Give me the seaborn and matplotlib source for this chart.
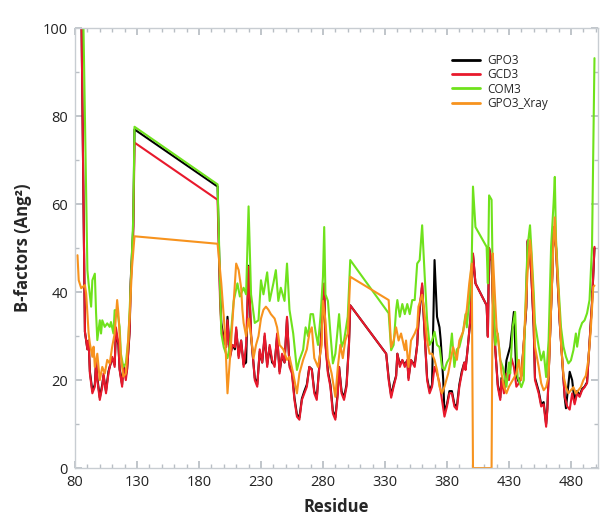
import matplotlib
matplotlib.use("Agg")
import matplotlib.pyplot as plt
import seaborn as sns
import pandas as pd
from matplotlib.ticker import MultipleLocator

# B-factors, (residue, value) per series
gpo3 = [(85, 108), (88, 31), (90, 27), (91, 29), (92, 22), (94, 17.5), (96, 19), (97, 24),
        (98, 20.5), (100, 16), (102, 19), (103, 21), (105, 17.5), (107, 22), (108, 23), (110, 25),
        (112, 23.5), (113, 31), (115, 28), (116, 22.5), (118, 19), (119, 23.4), (121, 21), (122, 22.5),
        (124, 31), (125, 43), (127, 55), (128, 77), (195, 64), (197, 40), (198, 33), (200, 29.5),
        (202, 28), (203, 34.4), (205, 25.5), (207, 28), (209, 27), (210, 31.5), (212, 25.5), (214, 29),
        (216, 23.5), (218, 24), (220, 46), (222, 30), (225, 20.5), (227, 19), (229, 26.5), (231, 24),
        (233, 30), (235, 23.5), (237, 27.5), (239, 24), (241, 23.5), (243, 30), (245, 22), (247, 25.5),
        (249, 24), (251, 34), (253, 23.5), (255, 22), (257, 16), (259, 12.2), (261, 11.5), (263, 15.8),
        (265, 17.5), (267, 19), (269, 23), (271, 22.5), (273, 17.5), (275, 16), (277, 23), (280, 36.5),
        (281, 41), (282, 28.5), (284, 22), (286, 19), (288, 13), (290, 11.5), (292, 17.5), (293, 23),
        (295, 17.5), (297, 16), (299, 19), (301, 28.5), (302, 37), (331, 26), (333, 20.5), (335, 16.5),
        (337, 19), (339, 21), (340, 26), (342, 23.5), (344, 24.5), (346, 23.5), (348, 24.5), (349, 20.5),
        (351, 24.5), (354, 23.5), (356, 28), (357, 33), (360, 41.5), (362, 30.5), (364, 20.5), (366, 17.5),
        (368, 19), (370, 47.3), (372, 34.4), (374, 32), (375, 29), (377, 20), (378, 12.5), (380, 14.5),
        (382, 17.5), (384, 17.5), (386, 14.5), (388, 14), (390, 19), (392, 22), (394, 24), (395, 22.5),
        (397, 28), (399, 34), (401, 48.5), (403, 42), (412, 37), (413, 30), (414, 50), (416, 47),
        (417, 38), (419, 27), (421, 19), (423, 16), (424, 20.5), (426, 18), (428, 24.5), (431, 27.6),
        (434, 35.5), (436, 21), (438, 19.5), (440, 21), (442, 28.5), (444, 36.5), (445, 51.5), (447, 48),
        (448, 44.5), (450, 32), (451, 20.5), (454, 17.5), (456, 14.5), (458, 15), (460, 10), (461, 13.5),
        (463, 28.5), (465, 44), (466, 54.5), (468, 50), (469, 44), (471, 33), (473, 24.5), (475, 16),
        (476, 13.6), (479, 21.9), (481, 20), (483, 15), (485, 17.5), (487, 16.5), (489, 18), (491, 18.5),
        (493, 19.5), (495, 28.5), (497, 37.5), (499, 50)]

gcd3 = [(85, 108), (88, 31), (90, 27), (91, 29), (92, 21.5), (94, 17), (96, 18.5), (97, 24.6),
        (98, 20), (100, 15.5), (102, 18.5), (103, 21.5), (105, 17), (107, 21.5), (108, 23), (110, 25.3),
        (112, 23), (113, 32), (115, 28.3), (116, 22.3), (118, 18.5), (119, 23), (121, 20), (122, 22.3),
        (124, 30.6), (125, 42), (127, 53), (128, 74), (195, 61), (197, 38), (198, 32), (200, 29),
        (202, 27.5), (203, 33.6), (205, 25), (207, 28), (209, 27.5), (210, 32), (212, 25), (214, 29),
        (216, 23), (218, 28), (220, 45.8), (222, 30.6), (225, 20), (227, 18.5), (229, 27), (231, 24),
        (233, 30.6), (235, 23), (237, 28), (239, 24.6), (241, 23), (243, 30.6), (245, 21.5), (247, 26),
        (249, 24), (251, 34.4), (253, 23), (255, 21.5), (257, 15.5), (259, 11.7), (261, 11), (263, 15.5),
        (265, 17), (267, 18.5), (269, 23), (271, 22.3), (273, 17), (275, 15.5), (277, 23), (280, 36),
        (281, 42), (282, 28), (284, 21.5), (286, 18.5), (288, 12.4), (290, 11), (292, 17), (293, 23),
        (295, 17), (297, 15.5), (299, 18.5), (301, 28), (302, 37), (331, 26), (333, 20), (335, 16),
        (337, 18.5), (339, 20.8), (340, 26), (342, 23), (344, 24.6), (346, 23), (348, 24.6), (349, 20),
        (351, 24.6), (354, 23), (356, 28), (357, 33.6), (360, 42), (362, 30.6), (364, 20), (366, 17),
        (368, 18.5), (370, 23), (372, 21.5), (374, 19.3), (376, 15.5), (378, 11.7), (380, 14), (382, 17),
        (384, 17), (386, 14), (388, 13.3), (390, 18.5), (392, 21.5), (394, 24), (395, 22.3), (397, 28),
        (399, 34.4), (401, 48.8), (403, 42), (412, 37), (413, 29.8), (414, 50), (416, 47), (417, 38.2),
        (419, 27), (421, 18.5), (423, 15.5), (424, 20), (426, 17), (428, 21.5), (430, 20), (432, 25),
        (434, 23), (436, 18.5), (438, 19.3), (440, 21), (442, 28.5), (444, 36.7), (445, 51.8), (447, 48),
        (448, 44.3), (450, 32), (451, 20), (454, 17), (456, 14), (458, 14.5), (460, 9.4), (461, 13.3),
        (463, 28.5), (465, 44.3), (466, 54.8), (468, 50.3), (469, 44.3), (471, 33), (473, 24.5), (475, 16.2),
        (477, 14), (479, 13.3), (481, 17), (483, 14.5), (485, 17), (487, 16.2), (489, 17.7), (491, 18.4),
        (493, 19.3), (495, 28.5), (497, 37.6), (499, 50.3)]

com3 = [(86, 115), (90, 45), (91, 41.9), (93, 36.7), (94, 42.7), (96, 44.2), (97, 35.2), (98, 29.1),
        (100, 33.6), (101, 30.6), (102, 33.6), (104, 32.1), (106, 32.9), (108, 32.1), (109, 33.2), (111, 30.6),
        (112, 35.9), (114, 35.9), (116, 32.1), (117, 26), (119, 23), (121, 23.8), (123, 29.1), (125, 41.9),
        (127, 57), (128, 77.6), (195, 64.5), (197, 42), (198, 30.6), (200, 27.5), (203, 25), (205, 28),
        (208, 38), (211, 42), (213, 39), (216, 41), (218, 39.5), (220, 59.5), (222, 39.5), (225, 33),
        (228, 33.6), (230, 42.7), (232, 39.5), (235, 44.5), (237, 38), (240, 42), (242, 45), (244, 38),
        (246, 41), (249, 38), (251, 46.5), (253, 36), (256, 30.6), (259, 22.3), (261, 24.6), (264, 26.9),
        (266, 32), (268, 30), (270, 35), (272, 35), (274, 31), (276, 28), (278, 34.4), (280, 43.5),
        (281, 54.8), (282, 39.5), (284, 38), (286, 30.6), (288, 23.8), (290, 26), (293, 35), (295, 27.5),
        (297, 29), (300, 34.4), (302, 47.3), (333, 35.2), (335, 26.8), (337, 28), (339, 36), (340, 38.2),
        (342, 34.4), (344, 37.3), (346, 35), (348, 37.3), (350, 35), (352, 38.2), (354, 38.2), (356, 46.5),
        (358, 47.3), (360, 55.2), (362, 44), (364, 33.6), (366, 28), (368, 29), (370, 31), (372, 28),
        (374, 27.5), (376, 23), (378, 22.3), (380, 24), (382, 25), (384, 30.6), (386, 23), (388, 27),
        (390, 27.5), (393, 31), (395, 35), (396, 32), (398, 38.2), (400, 47.3), (401, 64), (403, 54.8),
        (412, 50.3), (413, 42), (414, 62), (416, 61), (417, 42), (418, 35), (419, 28), (421, 30.6),
        (423, 24.6), (425, 23), (428, 18.5), (430, 24), (431, 21.5), (433, 32), (435, 35.5), (437, 20.7),
        (440, 18.4), (442, 20), (443, 34.4), (445, 50.3), (447, 55.2), (448, 50.3), (450, 39.8), (451, 33),
        (454, 27.6), (456, 24.5), (458, 26.5), (460, 20.7), (462, 29), (464, 50.3), (466, 60.2), (467, 66.2),
        (468, 51.8), (470, 41.2), (472, 32), (474, 27.6), (476, 25.3), (478, 23.8), (480, 24.5), (482, 26.8),
        (484, 30.6), (485, 27.6), (487, 31.4), (489, 33), (491, 33.6), (493, 35.2), (495, 38.2), (497, 50.3),
        (499, 93.2)]

gpo3_xray = [(82, 48.4), (83, 42.7), (85, 40.9), (88, 41.6), (89, 39.7), (91, 30.6), (92, 28.3), (94, 25.3),
             (95, 27.6), (96, 23), (98, 26), (100, 20), (102, 23), (104, 21.5), (106, 24.6), (108, 23.8),
             (110, 27.6), (112, 30.6), (114, 38.2), (115, 35.2), (117, 25.3), (119, 20.8), (121, 21.5), (122, 25.3),
             (124, 34.4), (126, 45.7), (128, 52.7), (195, 51), (198, 42), (201, 30.6), (203, 17), (206, 29),
             (210, 46.5), (212, 45), (214, 41), (215, 36), (216, 33), (218, 30), (220, 34), (222, 30),
             (224, 25), (226, 28), (228, 30), (230, 34), (232, 36), (234, 36.7), (236, 36), (238, 35),
             (241, 34), (243, 32), (245, 28), (248, 27), (251, 24.6), (253, 25.3), (256, 21.5), (259, 17),
             (261, 21.5), (264, 24.6), (267, 27), (269, 30.6), (271, 32), (273, 25), (276, 23), (279, 28),
             (280, 38), (282, 33.6), (284, 25), (287, 21.5), (290, 16.2), (292, 23), (294, 28), (296, 25),
             (298, 29), (300, 30.6), (302, 43.5), (333, 38.2), (335, 27.5), (337, 29), (339, 32), (341, 29),
             (343, 30.6), (346, 26.8), (347, 29), (349, 23), (351, 29), (354, 30.6), (356, 32), (357, 36.7),
             (360, 39.4), (362, 35), (364, 29), (366, 26), (368, 26), (370, 24.6), (372, 22.3), (374, 18.5),
             (376, 17), (378, 18.5), (381, 21.5), (383, 24.6), (385, 27.5), (388, 24.6), (390, 29), (393, 31),
             (396, 36), (398, 42), (400, 46.5), (401, 0), (416, 0), (417, 48.8), (418, 43), (420, 32),
             (422, 27.5), (424, 21.5), (426, 18.5), (428, 17), (430, 18.5), (433, 20), (436, 21.5), (438, 24.6),
             (440, 20), (442, 28.5), (445, 44.3), (447, 51.8), (448, 48.8), (450, 36.7), (451, 27.6), (454, 23),
             (456, 19.3), (458, 17.7), (460, 18.4), (462, 21), (464, 36.7), (466, 51.8), (467, 57), (468, 50.3),
             (470, 39.8), (472, 28.5), (474, 21), (476, 18.4), (478, 17), (480, 17.7), (482, 18.4), (484, 17),
             (486, 17.7), (488, 18.4), (490, 20), (492, 21), (494, 24.5), (496, 31.4), (498, 41.2), (499, 41.5)]

series_names = ["GPO3", "GCD3", "COM3", "GPO3_Xray"]
series_colors = ["#000000", "#e8192c", "#6fe21c", "#f7931e"]

frames = []
for name, pts in zip(series_names, [gpo3, gcd3, com3, gpo3_xray]):
    d = pd.DataFrame(pts, columns=["residue", "bfactor"])
    d["model"] = name
    frames.append(d)
df = pd.concat(frames, ignore_index=True)

sns.set_theme(style="ticks")
plt.rcParams["font.family"] = ["Open Sans", "DejaVu Sans"]

fig = plt.figure(figsize=(6, 5.23), dpi=100)
ax = fig.add_axes([0.125, 0.105, 0.872, 0.841])

sns.lineplot(data=df, x="residue", y="bfactor", hue="model", hue_order=series_names,
             palette=series_colors, estimator=None, sort=False, linewidth=1.5, ax=ax)

ax.set_xlim(80, 502)
ax.set_ylim(0, 100)
ax.xaxis.set_major_locator(MultipleLocator(50))
ax.xaxis.set_minor_locator(MultipleLocator(10))
ax.yaxis.set_major_locator(MultipleLocator(20))
ax.yaxis.set_minor_locator(MultipleLocator(10))
ax.set_xticks(range(80, 501, 50))
ax.tick_params(which="both", direction="in", top=True, right=True, color="#b8bec4", labelsize=10.5,
               labelcolor="#222222", pad=5)
ax.tick_params(which="major", length=5)
ax.tick_params(which="minor", length=3)
for s in ax.spines.values():
    s.set_color("#c8cdd2")
    s.set_linewidth(1)

ax.set_xlabel("Residue", fontsize=12, fontweight="bold", labelpad=6)
ax.set_ylabel("B-factors (Ang²)", fontsize=12, fontweight="bold", labelpad=8)

leg = ax.legend(loc="upper left", bbox_to_anchor=(0.7, 0.965), frameon=False, fontsize=8.5,
                handlelength=2.4, labelspacing=0.1, handletextpad=0.6)
for line in leg.get_lines():
    line.set_linewidth(2)

fig.savefig("out.png", dpi=100)
